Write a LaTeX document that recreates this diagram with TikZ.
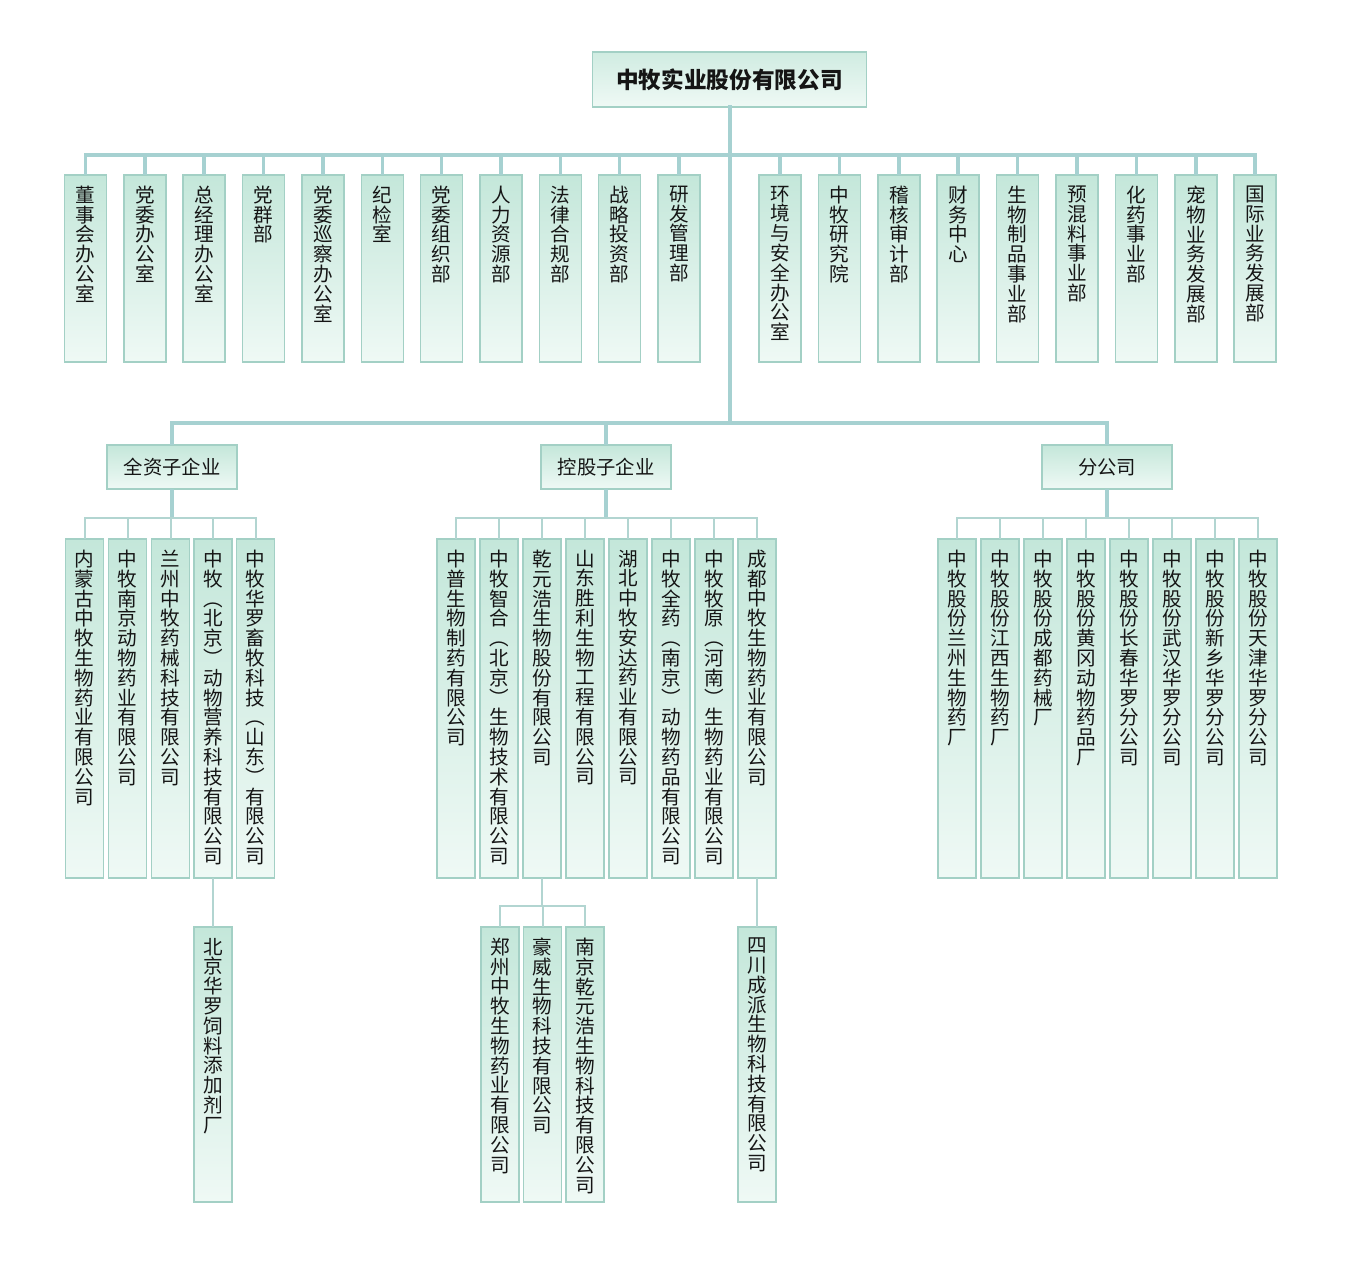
\documentclass[tikz,border=0pt]{standalone}
\usepackage{fontspec}
\setmainfont{Noto Sans CJK SC}
\definecolor{lnc}{HTML}{A6D1D1}
\definecolor{sln}{HTML}{B2D5D1}
\definecolor{bdc}{HTML}{A3D0C5}
\definecolor{topc}{HTML}{C4E7DA}
\definecolor{botc}{HTML}{EFF9F5}
\definecolor{txc}{HTML}{151515}
\makeatletter
\def\vt@add#1{\ifx\vt@acc\@empty\def\vt@acc{#1}\else\expandafter\def\expandafter\vt@acc\expandafter{\vt@acc\\#1}\fi}
\def\vt@go{\@tfor\vt@c:=}
\newcommand\vtxt[1]{\edef\vt@arg{#1}\def\vt@acc{}\expandafter\vt@go\vt@arg\do{\expandafter\vt@add\expandafter{\vt@c}}\vt@acc}
\makeatother
\tikzset{
  boxst/.style={draw=bdc, line width=1.1pt, top color=topc, bottom color=botc, inner sep=0pt, outer sep=0pt, anchor=north},
  vt/.style={inner sep=0pt, align=center, anchor=north, text=txc, font=\fontsize{14.7}{14.85}\selectfont},
  mainln/.style={draw=lnc, line width=3pt, line cap=rect},
  stemln/.style={draw=lnc, line width=2.6pt},
  subln/.style={draw=sln, line width=1.5pt, line cap=rect},
  substem/.style={draw=sln, line width=1.5pt},
}
\newcommand\obox[6]{%
  \node[boxst, minimum width=#5*0.75pt, minimum height=(#4-#3)*0.75pt] (#1) at (#2,#3) {};
  \node[vt] (#1-t) at ([yshift=-8pt]#1.north) {\vtxt{#6}};}
\begin{document}
\begin{tikzpicture}[x=0.75pt, y=-0.75pt]
\useasboundingbox (0,0) rectangle (1359,1280);
\fill[white] (0,0) rectangle (1359,1280);
% title
\node[boxst, top color=topc!80!white, minimum width=274*0.75pt, minimum height=55*0.75pt, text=txc, font=\fontsize{17}{20}\selectfont\bfseries] (top) at (729.5,52) {中牧实业股份有限公司};
% departments
\foreach \i/\x/\t in {1/85.5/董事会办公室, 2/144.9/党委办公室, 3/204.2/总经理办公室, 4/263.6/党群部, 5/322.9/党委巡察办公室, 6/382.3/纪检室, 7/441.6/党委组织部, 8/501.0/人力资源部, 9/560.3/法律合规部, 10/619.7/战略投资部, 11/679.0/研发管理部, 12/780.0/环境与安全办公室, 13/839.4/中牧研究院, 14/898.8/稽核审计部, 15/958.2/财务中心, 16/1017.6/生物制品事业部, 17/1077.0/预混料事业部, 18/1136.4/化药事业部, 19/1195.8/宠物业务发展部, 20/1255.2/国际业务发展部}
  {\obox{d\i}{\x}{175}{362}{42}{\t}}
% group boxes
\foreach \i/\x/\t in {1/172/全资子企业, 2/606/控股子企业, 3/1107/分公司}
  {\node[boxst, minimum width=130*0.75pt, minimum height=44*0.75pt, text=txc, font=\fontsize{14.5}{17}\selectfont] (g\i) at (\x,445) {\t};}
% wholly owned
\foreach \i/\x/\t in {1/84.5/内蒙古中牧生物药业有限公司, 2/127.5/中牧南京动物药业有限公司, 3/170.5/兰州中牧药械科技有限公司, 4/213/中牧︵北京︶动物营养科技有限公司, 5/255.5/中牧华罗畜牧科技︵山东︶有限公司}
  {\obox{a\i}{\x}{539}{878}{38}{\t}}
\obox{a6}{213}{927}{1202}{38}{北京华罗饲料添加剂厂}
% holding
\foreach \i/\x/\t in {1/456/中普生物制药有限公司, 2/499/中牧智合︵北京︶生物技术有限公司, 3/542/乾元浩生物股份有限公司, 4/585/山东胜利生物工程有限公司, 5/628/湖北中牧安达药业有限公司, 6/671/中牧全药︵南京︶动物药品有限公司, 7/714/中牧牧原︵河南︶生物药业有限公司, 8/757/成都中牧生物药业有限公司}
  {\obox{h\i}{\x}{539}{878}{38}{\t}}
\obox{q1}{500}{927}{1202}{38}{郑州中牧生物药业有限公司}
\obox{q2}{542.5}{927}{1202}{38}{豪威生物科技有限公司}
\obox{q3}{585}{927}{1202}{38}{南京乾元浩生物科技有限公司}
\obox{c1}{757}{927}{1202}{38}{四川成派生物科技有限公司}
% branches
\foreach \i/\x/\t in {1/957/中牧股份兰州生物药厂, 2/1000/中牧股份江西生物药厂, 3/1043/中牧股份成都药械厂, 4/1086/中牧股份黄冈动物药品厂, 5/1129/中牧股份长春华罗分公司, 6/1172/中牧股份武汉华罗分公司, 7/1215/中牧股份新乡华罗分公司, 8/1258/中牧股份天津华罗分公司}
  {\obox{f\i}{\x}{539}{878}{38}{\t}}
% connectors
\coordinate (b1) at (729.5,155);
\coordinate (b2) at (729.5,423);
\coordinate (s1) at (0,518);
\coordinate (s2) at (0,906);
\draw[mainln] (top.south) -- (b2);
\draw[mainln] (d1.north |- b1) -- (d20.north |- b1);
\foreach \i in {1,...,20} \draw[stemln] (d\i.north) -- (d\i.north |- b1);
\draw[mainln] (g1.north |- b2) -- (g3.north |- b2);
\foreach \i in {1,2,3} {\draw[stemln] (g\i.north) -- (g\i.north |- b2);
  \draw[stemln] (g\i.south) -- (g\i.south |- s1);}
\draw[subln] (a1.north |- s1) -- (a5.north |- s1);
\foreach \i in {1,...,5} \draw[substem] (a\i.north) -- (a\i.north |- s1);
\draw[subln] (h1.north |- s1) -- (h8.north |- s1);
\foreach \i in {1,...,8} \draw[substem] (h\i.north) -- (h\i.north |- s1);
\draw[subln] (f1.north |- s1) -- (f8.north |- s1);
\foreach \i in {1,...,8} \draw[substem] (f\i.north) -- (f\i.north |- s1);
\draw[substem] (a4.south) -- (a6.north);
\draw[substem] (h3.south) -- (h3.south |- s2);
\draw[subln] (q1.north |- s2) -- (q3.north |- s2);
\foreach \i in {1,2,3} \draw[substem] (q\i.north) -- (q\i.north |- s2);
\draw[substem] (h8.south) -- (c1.north);
\end{tikzpicture}
\end{document}
